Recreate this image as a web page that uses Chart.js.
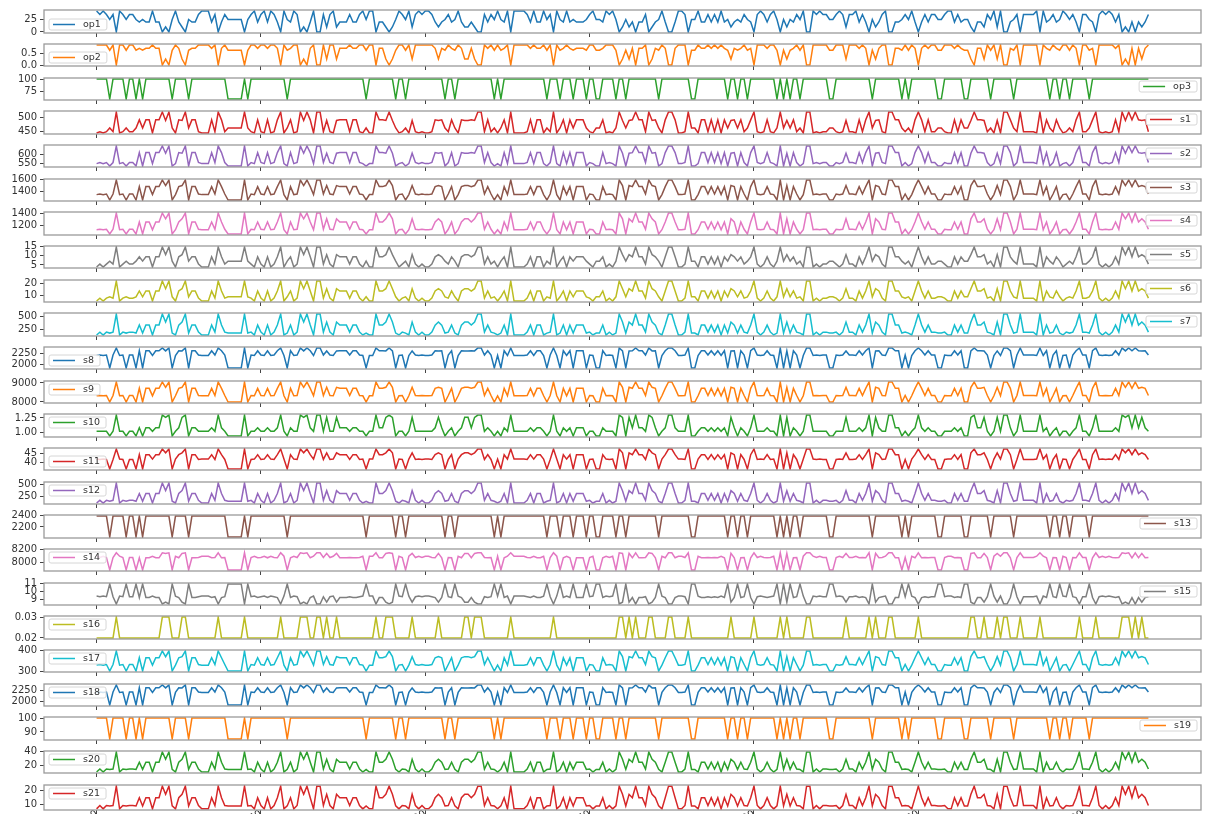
<!DOCTYPE html>
<html lang="en">
<head>
<meta charset="UTF-8">
<title>Engine run - operating settings and sensors</title>
<script src="https://cdn.jsdelivr.net/npm/chart.js"></script>
<style>
    body {
        margin: 0;
        background: #fff;
        width: 1210px;
        height: 820px;
        overflow: hidden;
        position: relative;
        font-family: "DejaVu Sans", sans-serif;
    }
    canvas { position: absolute; left: 0; }
</style>
</head>
<body>
<div id="plots"></div>
<script>
// operating regime of every cycle, read off the op1 / op2 / op3 panels
// 0: (0, 0, 100)  1: (10, .25, 100)  2: (20, .70, 100)  3: (25, .62, 60)  4: (35, .84, 100)  5: (42, .84, 100)
const regime = [
    5,4,5,4,3,4,0,5,4,3,4,4,3,2,3,2,2,5,2,2,0,1,0,3,5,2,1,0,3,2,2,4,5,5,
    5,2,4,0,2,4,3,3,3,3,3,0,3,4,5,2,4,5,2,5,4,2,0,5,3,2,5,4,0,1,0,2,5,0,0,
    4,1,4,5,1,2,2,2,4,2,2,4,5,3,5,5,0,2,2,1,0,1,3,5,4,3,5,1,4,5,4,5,5,4,2,
    1,2,3,4,2,3,5,2,1,1,2,1,0,0,4,2,4,3,5,3,2,5,0,5,5,5,5,4,2,5,2,2,5,3,4,0,
    5,3,2,5,2,3,2,2,2,3,4,5,3,3,2,5,4,5,3,0,1,3,1,2,0,2,2,4,0,1,2,3,5,2,0,
    0,2,5,5,4,0,3,3,5,2,2,4,2,4,2,5,2,3,1,2,3,2,4,3,2,0,4,5,4,2,4,5,3,0,3,
    1,3,2,4,3,5,0,0,5,4,5,4,4,3,3,4,5,4,1,4,4,5,2,4,2,0,3,1,2,4,5,0,0,2,2,
    3,4,3,5,2,0,2,4,2,4,4,3,3,4,5,5,2,4,2,3,3,1,0,2,2,1,4,3,5,1,5,0,0,2,3,4,
    0,4,4,4,4,5,0,5,2,3,4,2,3,5,4,3,4,2,0,4,4,3,2,0,4,5,4,5,4,2,4,0,1,0,2,0,2,1,2,4
];

// value of each channel in each regime
const op1Levels = [0, 10, 20, 25, 35, 42];
const op2Levels = [0.0, 0.25, 0.70, 0.62, 0.84, 0.84];
const op3Levels = [100, 100, 100, 60, 100, 100];
const s1Levels = [518.67, 489.05, 491.19, 462.54, 449.44, 445.00];
const s2Levels = [642.5, 604.4, 607.5, 536.8, 555.2, 549.4];
const s3Levels = [1589, 1498, 1481, 1262, 1360, 1350];
const s4Levels = [1405, 1307, 1252, 1048, 1128, 1120];
const s5Levels = [14.62, 10.52, 9.35, 7.05, 5.48, 3.91];
const s6Levels = [21.61, 15.50, 13.66, 9.03, 8.00, 5.72];
const s7Levels = [553.5, 394.3, 334.5, 175.5, 194.5, 138.6];
const s8Levels = [2388.1, 2318.9, 2323.9, 1915.3, 2222.8, 2211.9];
const s9Levels = [9050, 8770, 8717, 7998, 8340, 8325];
const s10Levels = [1.30, 1.26, 1.08, 0.94, 1.02, 1.02];
const s11Levels = [47.5, 45.4, 44.4, 36.6, 41.8, 42.0];
const s12Levels = [521.6, 371.8, 315.4, 164.6, 183.2, 130.5];
const s13Levels = [2388.1, 2388.1, 2388.1, 2028.2, 2388.1, 2388.1];
const s14Levels = [8150, 8140, 8070, 7877, 8075, 8095];
const s15Levels = [8.42, 8.65, 9.22, 10.90, 9.32, 9.40];
const s16Levels = [0.03, 0.03, 0.02, 0.02, 0.02, 0.02];
const s17Levels = [396, 370, 365, 304, 334, 331];
const s18Levels = [2388, 2319, 2324, 1915, 2223, 2212];
const s19Levels = [100, 100, 100, 84.93, 100, 100];
const s20Levels = [38.9, 28.6, 24.4, 14.3, 14.8, 10.6];
const s21Levels = [23.3, 17.2, 14.7, 8.6, 8.9, 6.4];

// s14 axis limits (its late cycles drift up to ~8190)
const s14Limits = [7860, 8210];

// tick labels
const xTicks = [0, 50, 100, 150, 200, 250, 300];
const op1Ticks = ['0', '25'];
const op2Ticks = ['0.0', '0.5'];
const op3Ticks = ['75', '100'];
const s1Ticks = ['450', '500'];
const s2Ticks = ['550', '600'];
const s3Ticks = ['1400', '1600'];
const s4Ticks = ['1200', '1400'];
const s5Ticks = ['5', '10', '15'];
const s6Ticks = ['10', '20'];
const s7Ticks = ['250', '500'];
const s8Ticks = ['2000', '2250'];
const s9Ticks = ['8000', '9000'];
const s10Ticks = ['1.00', '1.25'];
const s11Ticks = ['40', '45'];
const s12Ticks = ['250', '500'];
const s13Ticks = ['2200', '2400'];
const s14Ticks = ['8000', '8200'];
const s15Ticks = ['9', '10', '11'];
const s16Ticks = ['0.02', '0.03'];
const s17Ticks = ['300', '400'];
const s18Ticks = ['2000', '2250'];
const s19Ticks = ['90', '100'];
const s20Ticks = ['20', '40'];
const s21Ticks = ['10', '20'];

const names = ['op1', 'op2', 'op3', 's1', 's2', 's3', 's4', 's5', 's6', 's7', 's8', 's9',
               's10', 's11', 's12', 's13', 's14', 's15', 's16', 's17', 's18', 's19', 's20', 's21'];
const levels = [op1Levels, op2Levels, op3Levels, s1Levels, s2Levels, s3Levels, s4Levels, s5Levels,
                s6Levels, s7Levels, s8Levels, s9Levels, s10Levels, s11Levels, s12Levels, s13Levels,
                s14Levels, s15Levels, s16Levels, s17Levels, s18Levels, s19Levels, s20Levels, s21Levels];
const tickLabels = [op1Ticks, op2Ticks, op3Ticks, s1Ticks, s2Ticks, s3Ticks, s4Ticks, s5Ticks,
                    s6Ticks, s7Ticks, s8Ticks, s9Ticks, s10Ticks, s11Ticks, s12Ticks, s13Ticks,
                    s14Ticks, s15Ticks, s16Ticks, s17Ticks, s18Ticks, s19Ticks, s20Ticks, s21Ticks];
const fixedLimits = { s14: s14Limits };
// legend corner: first letter upper/lower, second left/right
const legendLoc = ['ll', 'll', 'ur', 'ur', 'ur', 'ur', 'ur', 'ur', 'ur', 'ur', 'll', 'ul',
                   'ul', 'll', 'ul', 'ur', 'ul', 'ur', 'ul', 'ul', 'ul', 'ur', 'ul', 'ul'];

const colors = ['#1f77b4', '#ff7f0e', '#2ca02c', '#d62728', '#9467bd',
                '#8c564b', '#e377c2', '#7f7f7f', '#bcbd22', '#17becf'];

// frame + small legend box drawn inside each panel
const panelDecor = {
    id: 'panelDecor',
    afterDraw(chart, args, opts) {
        const ctx = chart.ctx;
        const a = chart.chartArea;
        ctx.save();
        ctx.strokeStyle = '#9a9a9a';
        ctx.lineWidth = 1.3;
        ctx.strokeRect(a.left, a.top, a.right - a.left, a.bottom - a.top);

        ctx.font = '9.5px "DejaVu Sans"';
        const tw = ctx.measureText(opts.text).width;
        const w = 40 + tw, h = 11;
        const x = opts.loc[1] === 'l' ? a.left + 5 : a.right - 4 - w;
        const y = opts.loc[0] === 'u' ? a.top + 3 : a.bottom - 3 - h;
        ctx.beginPath();
        ctx.roundRect(x, y, w, h, 2);
        ctx.fillStyle = 'rgba(255,255,255,0.8)';
        ctx.fill();
        ctx.strokeStyle = '#d6d6d6';
        ctx.lineWidth = 1;
        ctx.stroke();
        ctx.beginPath();
        ctx.moveTo(x + 4, y + h / 2);
        ctx.lineTo(x + 26, y + h / 2);
        ctx.strokeStyle = opts.color;
        ctx.lineWidth = 1.5;
        ctx.stroke();
        ctx.fillStyle = '#333';
        ctx.textBaseline = 'middle';
        ctx.fillText(opts.text, x + 34, y + h / 2 + 0.5);
        ctx.restore();
    }
};

const top0 = 7.3, pitch = 33.67, boxH = 28.3;
const holder = document.getElementById('plots');

names.forEach((name, k) => {
    const values = regime.map(r => levels[k][r]);
    const lo = Math.min(...values), hi = Math.max(...values);
    const pad = (hi - lo) * 0.05;
    const limits = fixedLimits[name] || [lo - pad, hi + pad];
    const tickVals = tickLabels[k].map(Number);
    const last = k === names.length - 1;

    const boxTop = Math.round(top0 + pitch * k);
    const boxBottom = Math.round(top0 + pitch * k + boxH);
    const canvasTop = boxTop - 6;
    const canvasBottom = last ? 830 : boxBottom + 6;
    const canvasH = canvasBottom - canvasTop;
    const bottomPad = canvasBottom - boxBottom - 4;

    const canvas = document.createElement('canvas');
    canvas.width = 1210;
    canvas.height = canvasH;
    canvas.style.top = canvasTop + 'px';
    holder.appendChild(canvas);

    new Chart(canvas, {
        type: 'line',
        data: {
            datasets: [{
                label: name,
                data: values.map((v, i) => ({ x: i, y: v })),
                borderColor: colors[k % 10],
                borderWidth: 1.5,
                pointRadius: 0,
                tension: 0
            }]
        },
        options: {
            responsive: false,
            animation: false,
            layout: { padding: { top: 6, right: 9, bottom: bottomPad, left: 0 } },
            plugins: {
                legend: { display: false },
                tooltip: { enabled: false },
                panelDecor: { text: name, color: colors[k % 10], loc: legendLoc[k] }
            },
            scales: {
                x: {
                    type: 'linear',
                    min: -16,
                    max: 336,
                    afterBuildTicks: s => { s.ticks = xTicks.map(v => ({ value: v })); },
                    afterFit: s => { s.height = 4; },
                    border: { display: false },
                    grid: { drawOnChartArea: false, drawTicks: true, tickLength: 4, color: '#444' },
                    ticks: {
                        display: last,
                        autoSkip: false,
                        minRotation: 30,
                        maxRotation: 30,
                        padding: -6,
                        color: '#333',
                        font: { family: 'DejaVu Sans', size: 10 }
                    }
                },
                y: {
                    min: limits[0],
                    max: limits[1],
                    afterBuildTicks: s => {
                        s.ticks = tickVals.filter(v => v >= s.min && v <= s.max).map(v => ({ value: v }));
                    },
                    afterFit: s => { s.width = 44; },
                    border: { display: false },
                    grid: { drawOnChartArea: false, drawTicks: true, tickLength: 4, color: '#444' },
                    ticks: {
                        autoSkip: false,
                        padding: 3,
                        color: '#333',
                        font: { family: 'DejaVu Sans', size: 10 },
                        callback: v => tickLabels[k][tickVals.indexOf(v)]
                    }
                }
            }
        },
        plugins: [panelDecor]
    });
});
</script>
</body>
</html>
